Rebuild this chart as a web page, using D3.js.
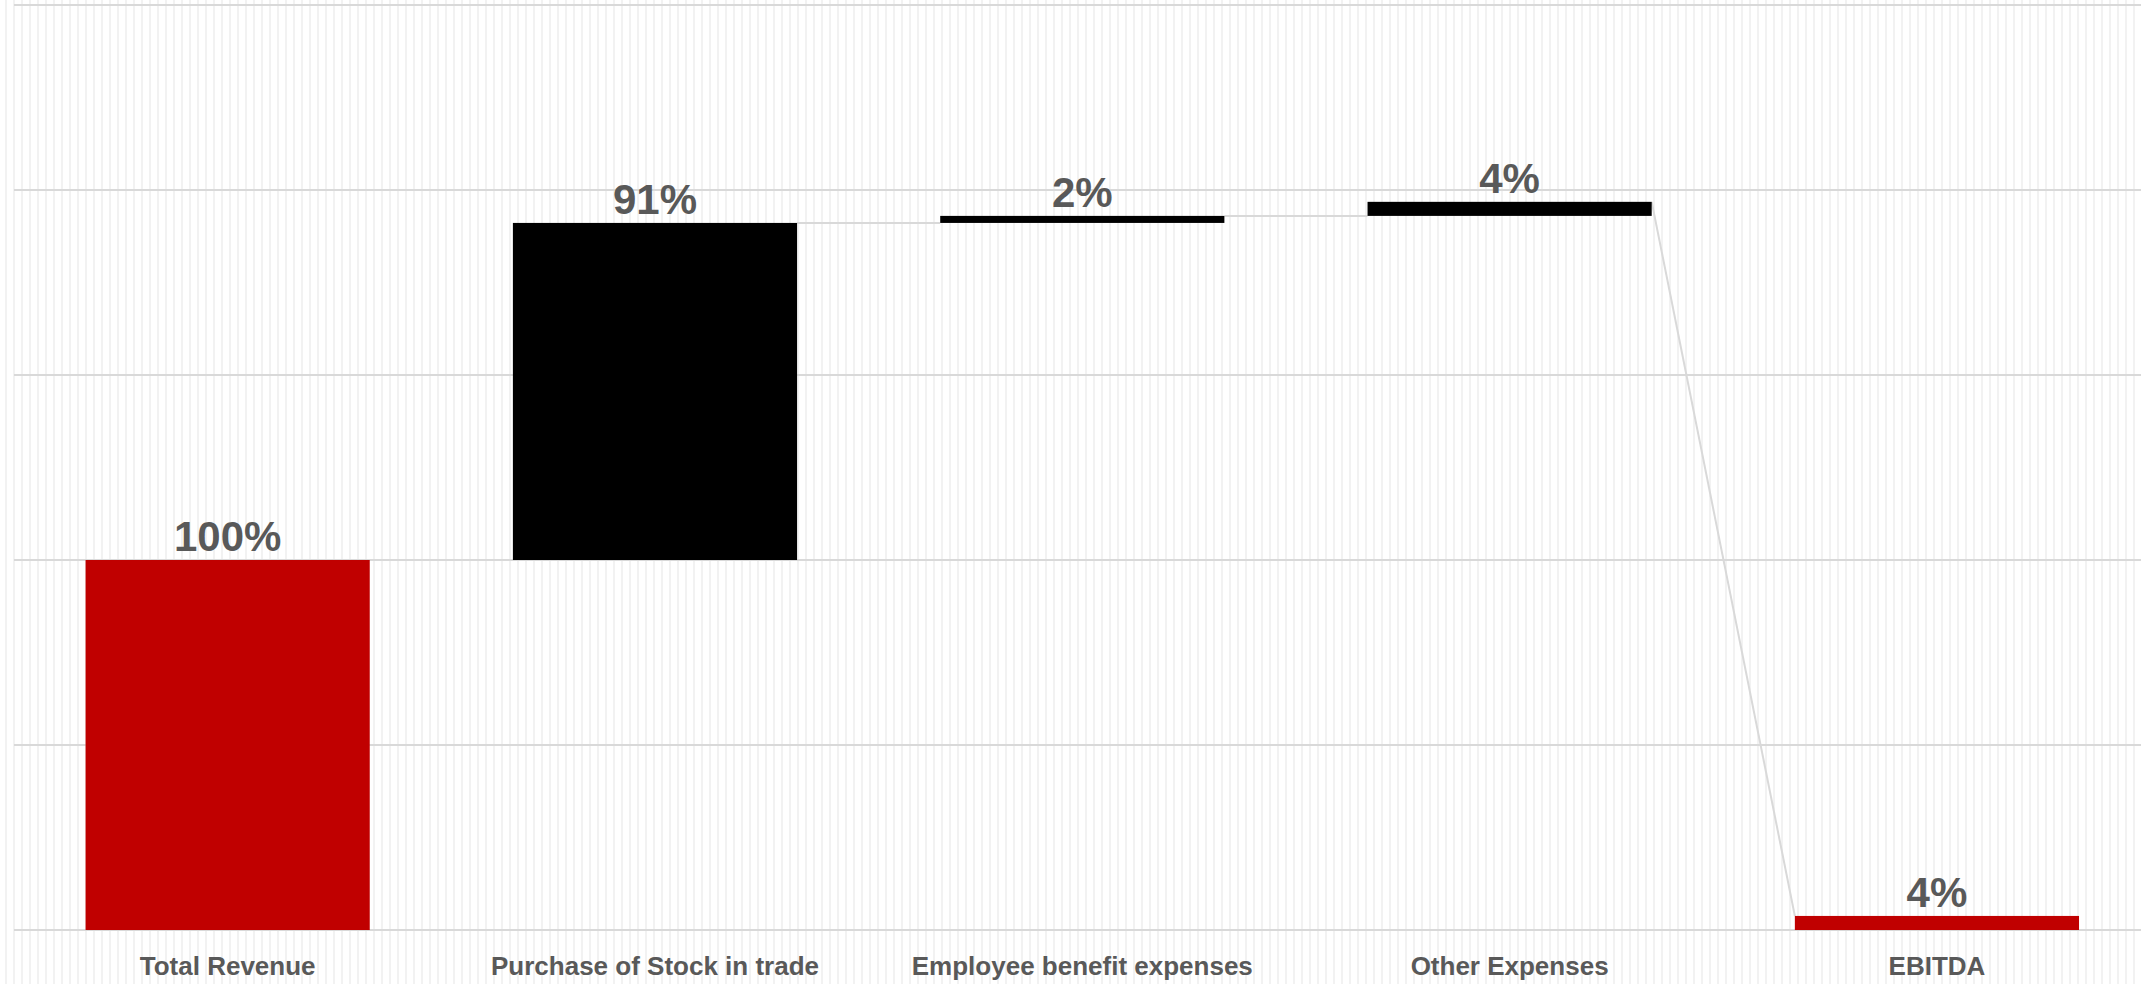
<!DOCTYPE html>
<html>
  <head>
    <title>EBITDA bridge | D3</title>
    <script src="https://d3js.org/d3.v7.min.js" charset="utf-8"></script>
    <style>
    body {
        margin: 0;
        background: #fff;
        font-family: "Liberation Sans", Arial, sans-serif;
    }
    .value {
        fill: #595959;
        font-size: 42px;
        font-weight: bold;
    }
    .cat {
        fill: #595959;
        font-size: 26px;
        font-weight: bold;
    }
    </style>
  </head>

  <body>
    <script>
// chart data
var categories = ["Total Revenue", "Purchase of Stock in trade", "Employee benefit expenses", "Other Expenses", "EBITDA"];
var values = [100, 91.1, 1.9, 3.8, 3.8];
var isTotal = [true, false, false, false, true];
var yTicks = [0, 50, 100, 150, 200, 250];

var width = 2141;
var height = 984;
var red = "#c00000";
var grid = "#d9d9d9";

// running start / end of each bar
var bars = [];
var level = 0;
categories.forEach(function(c, i) {
  var start = isTotal[i] ? 0 : level;
  var end = start + values[i];
  bars.push({name: c, value: values[i], start: start, end: end, total: isTotal[i]});
  level = end;
});

var svg = d3.select("body")
  .append("svg")
  .attr("width", width)
  .attr("height", height);

// striped background
svg.append("g")
  .selectAll("line")
  .data(d3.range(6, width, 8))
  .enter()
  .append("line")
  .attr("x1", d => d).attr("x2", d => d)
  .attr("y1", 0).attr("y2", height)
  .attr("stroke", "#eeeeee")
  .attr("stroke-width", 1.5);

var x = d3.scaleBand()
  .domain(categories)
  .range([14, 2150.6])
  .paddingInner(0.335)
  .paddingOuter(0.1675);

var y = d3.scaleLinear()
  .domain([0, 250])
  .range([930, 5]);

// gridlines
svg.append("g")
  .selectAll("line")
  .data(yTicks)
  .enter()
  .append("line")
  .attr("x1", 14).attr("x2", width)
  .attr("y1", d => y(d)).attr("y2", d => y(d))
  .attr("stroke", grid)
  .attr("stroke-width", 2);

// connectors: top of a bar to the base of the next (or top of a total)
var links = bars.slice(0, -1).map(function(b, i) {
  var nb = bars[i + 1];
  return {x1: x(b.name) + x.bandwidth(), y1: b.end, x2: x(nb.name), y2: nb.total ? nb.end : nb.start};
});
svg.append("g")
  .selectAll("line")
  .data(links)
  .enter()
  .append("line")
  .attr("x1", d => d.x1).attr("x2", d => d.x2)
  .attr("y1", d => y(d.y1)).attr("y2", d => y(d.y2))
  .attr("stroke", grid)
  .attr("stroke-width", 2);

svg.append("g")
  .selectAll("rect")
  .data(bars)
  .enter()
  .append("rect")
  .attr("x", d => x(d.name))
  .attr("width", x.bandwidth())
  .attr("y", d => y(d.end))
  .attr("height", d => y(d.start) - y(d.end))
  .attr("fill", d => d.total ? red : "#000");

svg.append("g")
  .selectAll("text")
  .data(bars)
  .enter()
  .append("text")
  .attr("class", "value")
  .attr("x", d => x(d.name) + x.bandwidth() / 2)
  .attr("y", d => y(d.end) - 9)
  .attr("text-anchor", "middle")
  .text(d => Math.round(d.value) + "%");

svg.append("g")
  .selectAll("text")
  .data(categories)
  .enter()
  .append("text")
  .attr("class", "cat")
  .attr("x", d => x(d) + x.bandwidth() / 2)
  .attr("y", 975)
  .attr("text-anchor", "middle")
  .text(d => d);
    </script>
  </body>
</html>
